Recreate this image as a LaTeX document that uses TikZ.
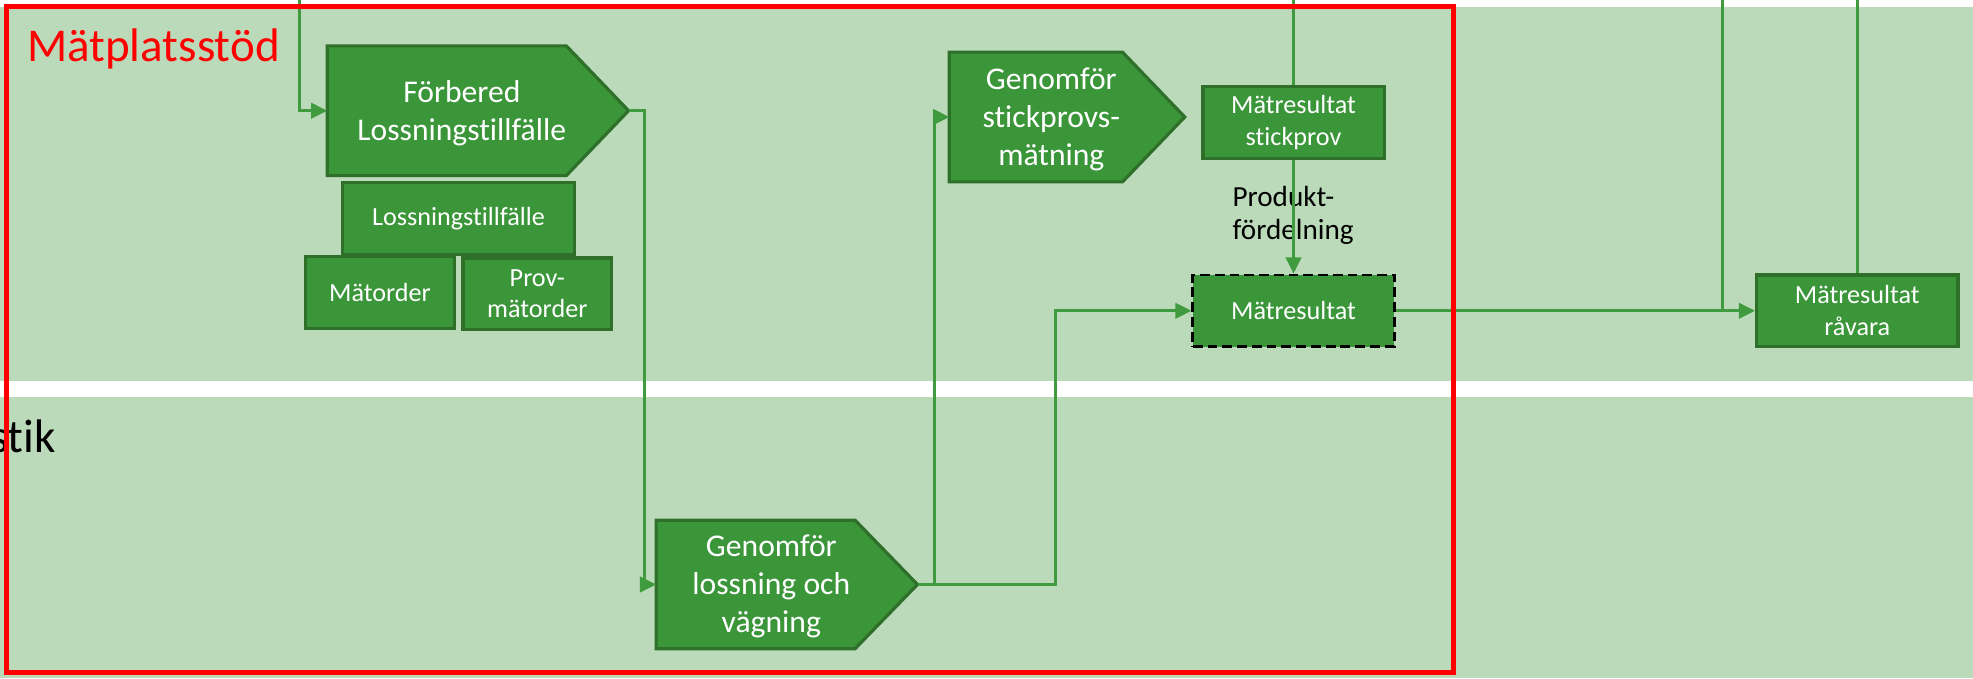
\documentclass[tikz,border=0pt]{standalone}
\usepackage{fontspec}
\setmainfont{Carlito}[Ligatures=NoCommon]
\usetikzlibrary{calc,arrows.meta}
\definecolor{bandgreen}{HTML}{BBDABA}
\definecolor{boxgreen}{HTML}{3B963A}
\definecolor{boxedge}{HTML}{2E6F29}
\definecolor{linegreen}{HTML}{3F9B3D}
\newcommand\U{0.012583cm}
\newcommand\pent[2]{%
  \filldraw[procshape] (#1.north west) -- ($(#1.north east)+(-#2,0)$) -- (#1.east)
    -- ($(#1.south east)+(-#2,0)$) -- (#1.south west) -- cycle;}
\tikzset{
  bigtxt/.style={font=\fontsize{9}{10.9}\selectfont},
  smalltxt/.style={font=\fontsize{7.45}{9}\selectfont},
  procbb/.style={rectangle, draw=none, inner sep=0pt},
  proctext/.style={text=white, align=center, inner sep=0pt, bigtxt},
  procshape/.style={fill=boxgreen, draw=boxedge, line width=0.9pt, line join=miter},
  datbox/.style={rectangle, fill=boxgreen, draw=boxedge, line width=0.9pt, text=white,
    align=center, inner sep=0pt, smalltxt},
  dashbox/.style={datbox, draw=black, dash pattern=on 2.8pt off 1.4pt, line width=0.8pt},
  link/.style={draw=linegreen, line width=0.8pt},
  conn/.style={link, -{Triangle[length=4.6pt,width=4.4pt]}},
  lanelabel/.style={anchor=base west, inner sep=0pt, font=\fontsize{13.4}{16}\selectfont},
}
\begin{document}
\begin{tikzpicture}[x=0.012583cm, y=-0.012583cm]
\useasboundingbox (0,0) rectangle (1568,539);
\clip (0,0) rectangle (1568,539);
% lanes
\fill[bandgreen] (0,5.3) rectangle (1568,303);
\fill[bandgreen] (0,315.4) rectangle (1568,539);
% lane labels
\node[lanelabel, text=red] (mps) at (21,49) {Mätplatsstöd};
\node[lanelabel, anchor=base east] (lg) at (45,360) {stik};
% process nodes
\node[procbb, minimum width=238.4*\U, minimum height=102*\U] (fl) at (379.8,88) {};
\pent{fl}{49.5}
\node[proctext] (fl-t) at (367,90) {Förbered\\Lossningstillfälle};
\node[procbb, minimum width=186*\U, minimum height=102*\U] (sp) at (848,93) {};
\pent{sp}{49.5}
\node[proctext] (sp-t) at (835.5,95) {Genomför\\stickprovs-\\mätning};
\node[procbb, minimum width=206.6*\U, minimum height=101*\U] (lo) at (625.3,464.5) {};
\pent{lo}{49.6}
\node[proctext] (lo-t) at (613,466) {Genomför\\lossning och\\vägning};
% data boxes
\node[datbox, minimum width=184.7*\U, minimum height=57*\U] (lt) at (364.4,173.5) {Lossningstillfälle};
\node[datbox, minimum width=118*\U, minimum height=57*\U] (mo) at (302,232.5) {Mätorder};
\node[datbox, minimum width=118*\U, minimum height=57*\U] (pm) at (427,233.5) {Prov-\\mätorder};
\node[datbox, minimum width=144*\U, minimum height=57*\U] (ms) at (1028,97.5) {Mätresultat\\stickprov};
\node[dashbox, minimum width=160*\U, minimum height=57*\U] (mr) at (1028,247) {Mätresultat};
\node[datbox, minimum width=160*\U, minimum height=57*\U] (rv) at (1476,247) {Mätresultat\\råvara};
\node[anchor=west, align=left, inner sep=0pt, font=\fontsize{8.3}{9.5}\selectfont] (pf) at (979,171) {Produkt-\\fördelning};
% free ends at the top
\coordinate (t1) at (238,-2);
\coordinate (t2) at (1028,-2);
\coordinate (t3) at (1369,-2);
\coordinate (t4) at (1476,-2);
% connectors
\draw[conn] (t1) |- (fl.west);
\draw[conn] (fl.east) -- ++(12.5,0) |- (lo.west);
\draw[conn] (lo.east) -- ++(13.4,0) |- (sp.west);
\draw[conn] (lo.east) -- ++(109.4,0) |- (mr.west);
\draw[link] (t2) -- (ms.north);
\draw[conn] (ms.south) -- (mr.north);
\draw[conn] (mr.east) -- (rv.west);
\draw[link] (t3) -- (t3 |- rv.west);
\draw[link] (t4) -- (rv.north);
% red frame
\draw[red, line width=1.43pt] (4.8,5.3) rectangle (1155.5,534.3);
\end{tikzpicture}
\end{document}
